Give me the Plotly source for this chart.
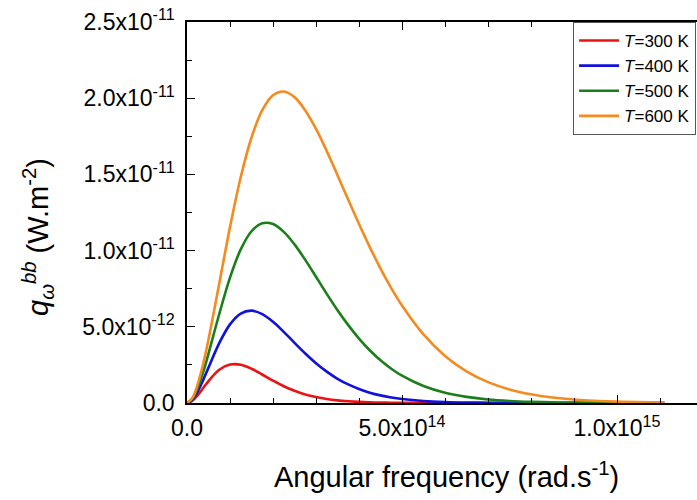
import plotly.graph_objects as go

# Angular frequency samples (units of 1e14 rad/s)
omega = [0, 0.125, 0.25, 0.375, 0.5, 0.75, 1.0, 1.25, 1.5, 1.75, 2.0, 2.25, 2.5, 2.75,
         3.0, 3.25, 3.5, 3.75, 4.0, 4.25, 4.5, 4.75, 5.0, 5.5, 6.0, 6.5, 7.0, 7.5,
         8.0, 8.5, 9.0, 10.0, 11.1]
X_UNIT = 1e14
Y_UNIT = 1e-12

# Spectral values (units of 1e-12 W.m^-2)
q300 = [0, 0.155, 0.52, 0.98, 1.44, 2.18, 2.52, 2.51, 2.25, 1.87, 1.47, 1.10, 0.80, 0.563,
        0.39, 0.26, 0.17, 0.112, 0.072, 0.046, 0.029, 0.018, 0.011, 0.004, 0.0015, 0.0005,
        0.0002, 0, 0, 0, 0, 0, 0]
q400 = [0, 0.215, 0.76, 1.50, 2.32, 3.93, 5.16, 5.87, 6.06, 5.83, 5.33, 4.67, 3.95, 3.25,
        2.61, 2.06, 1.59, 1.22, 0.92, 0.68, 0.50, 0.366, 0.265, 0.136, 0.068, 0.033,
        0.016, 0.0076, 0.0035, 0.0016, 0.0007, 0.0002, 0]
q500 = [0, 0.276, 1.00, 2.02, 3.24, 5.84, 8.23, 10.08, 11.27, 11.79, 11.74, 11.23, 10.41, 9.39,
        8.28, 7.16, 6.09, 5.11, 4.23, 3.46, 2.80, 2.25, 1.79, 1.11, 0.67, 0.40,
        0.23, 0.132, 0.075, 0.042, 0.023, 0.007, 0.002]
q600 = [0, 0.336, 1.24, 2.56, 4.17, 7.84, 11.54, 14.83, 17.42, 19.21, 20.19, 20.44, 20.07, 19.20,
        17.99, 16.53, 14.95, 13.33, 11.74, 10.23, 8.82, 7.54, 6.40, 4.50, 3.09, 2.08,
        1.37, 0.89, 0.57, 0.36, 0.23, 0.088, 0.03]

series = [("<i>T</i>=300 K", q300, "#EE1111"),
          ("<i>T</i>=400 K", q400, "#1111DD"),
          ("<i>T</i>=500 K", q500, "#1A7F1A"),
          ("<i>T</i>=600 K", q600, "#F58A1F")]

y_tickvals = [0, 5e-12, 1e-11, 1.5e-11, 2e-11, 2.5e-11]
y_ticktext = ["0.0", "5.0x10<sup>-12</sup>", "1.0x10<sup>-11</sup>",
              "1.5x10<sup>-11</sup>", "2.0x10<sup>-11</sup>", "2.5x10<sup>-11</sup>"]
x_tickvals = [0, 5e14, 1e15]
x_ticktext = ["0.0", "5.0x10<sup>14</sup>", "1.0x10<sup>15</sup>"]

FONT = "Liberation Sans, Arial, sans-serif"

fig = go.Figure()
for name, vals, color in series:
    fig.add_trace(go.Scatter(
        x=[w * X_UNIT for w in omega],
        y=[v * Y_UNIT for v in vals],
        mode="lines", name=name,
        line=dict(color=color, width=2.6, shape="spline", smoothing=1.0),
    ))

fig.update_layout(
    width=697, height=500,
    margin=dict(l=187, r=0, t=22, b=97, autoexpand=False),
    plot_bgcolor="white", paper_bgcolor="white",
    font=dict(family=FONT, color="black"),
    showlegend=True,
    legend=dict(x=0.757, y=1, xanchor="left", yanchor="top",
                bgcolor="white", bordercolor="#555555", borderwidth=1,
                font=dict(size=17, family=FONT), itemwidth=40,
                tracegroupgap=0),
    xaxis=dict(range=[0, 11.86e14], tickmode="array", tickvals=x_tickvals,
               ticktext=x_ticktext, ticks="inside", ticklen=8, tickwidth=1.2,
               tickcolor="black", showline=True, linecolor="black", linewidth=1.5,
               mirror="ticks", showgrid=False, zeroline=False,
               tickfont=dict(size=23, family=FONT), ticklabelstandoff=4,
               minor=dict(tickmode="linear", tick0=0, dtick=1e14, ticks="inside",
                          ticklen=5, tickcolor="black", tickwidth=1.2)),
    yaxis=dict(range=[0, 2.5e-11], tickmode="array", tickvals=y_tickvals,
               ticktext=y_ticktext, ticks="inside", ticklen=8, tickwidth=1.2,
               tickcolor="black", showline=True, linecolor="black", linewidth=1.5,
               mirror=False, showgrid=False, zeroline=False,
               tickfont=dict(size=23, family=FONT), ticklabelstandoff=6,
               minor=dict(tickmode="linear", tick0=0, dtick=2.5e-12, ticks="inside",
                          ticklen=5, tickcolor="black", tickwidth=1.2)),
    annotations=[
        dict(text="Angular frequency (rad.s<sup>-1</sup>)", xref="paper", yref="paper",
             x=0.508, y=-0.189, xanchor="center", yanchor="middle", showarrow=False,
             font=dict(size=29, family=FONT)),
        dict(text="<i>q</i><sub><i>ω</i></sub><sup><i>bb</i></sup> (W.m<sup>-2</sup>)",
             xref="paper", yref="paper", x=-0.292, y=0.436, xanchor="center",
             yanchor="middle", textangle=-90, showarrow=False,
             font=dict(size=29, family=FONT)),
    ],
)

fig.write_html("out.html", config={"displayModeBar": False},
               post_script="document.body.style.margin='0px';document.body.style.overflow='hidden';")
